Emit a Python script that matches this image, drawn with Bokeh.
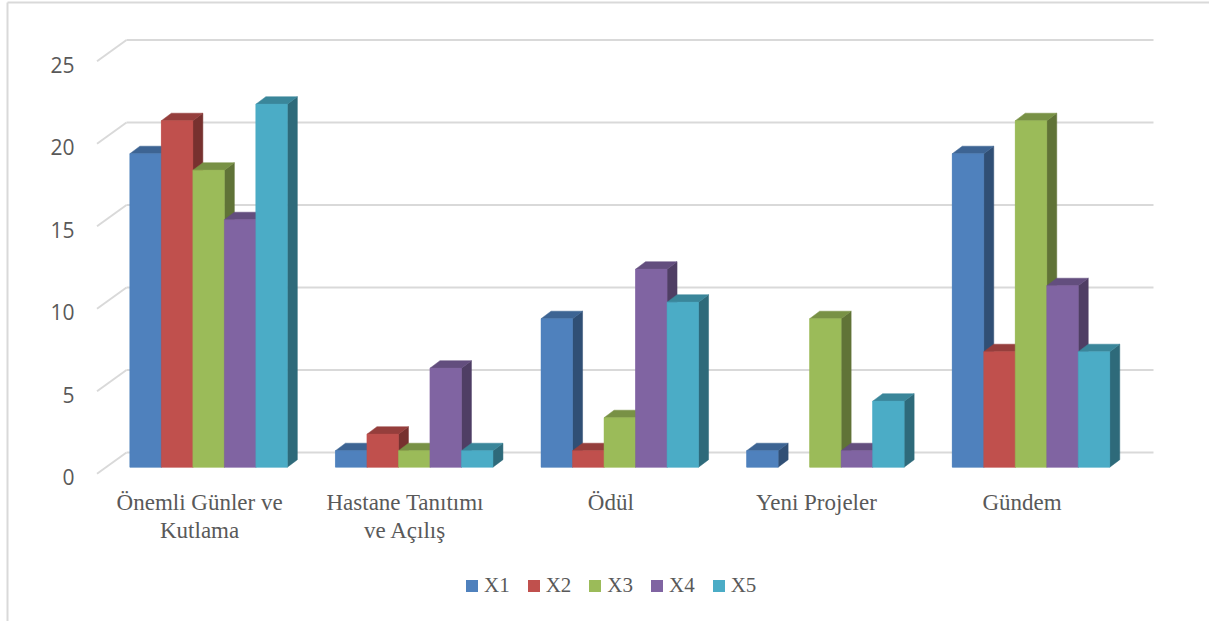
from bokeh.plotting import figure
from bokeh.models import Legend, LegendItem, Range1d, ColumnDataSource
from bokeh.core.properties import value
from bokeh.embed import file_html
from bokeh.resources import INLINE

categories = ["Önemli Günler ve\nKutlama", "Hastane Tanıtımı\nve Açılış", "Ödül", "Yeni Projeler", "Gündem"]
series = ["X1", "X2", "X3", "X4", "X5"]
x1 = [19, 1, 9, 1, 19]
x2 = [21, 2, 1, 0, 7]
x3 = [18, 1, 3, 9, 21]
x4 = [15, 6, 12, 1, 11]
x5 = [22, 1, 10, 4, 7]
values = [x1, x2, x3, x4, x5]
y_ticks = [0, 5, 10, 15, 20, 25]
colors = ["#4F81BD", "#C0504D", "#9BBB59", "#8064A2", "#4BACC6"]

W, H = 1209, 621
# pixel geometry -> data-unit helpers
PX_PER_CAT = 205.6
CAT0_PX = 208.1
ZERO_PY = 466.7
PX_PER_UNIT = 16.5


def xu(px):
    return (px - CAT0_PX) / PX_PER_CAT


def yu(py):
    return (ZERO_PY - py) / PX_PER_UNIT


def shade(hexc, f):
    r, g, b = int(hexc[1:3], 16), int(hexc[3:5], 16), int(hexc[5:7], 16)
    return "#%02x%02x%02x" % (int(r * f), int(g * f), int(b * f))


p = figure(width=W, height=H, output_backend="svg", toolbar_location=None,
           x_range=Range1d(xu(0), xu(W)), y_range=Range1d(yu(H), yu(0)),
           x_axis_location=None, y_axis_location=None, min_border=0,
           background_fill_color="white", border_fill_color="white")
p.outline_line_color = None
p.xgrid.visible = False
p.ygrid.visible = False

# chart border (left and top)
p.line([xu(7), xu(7)], [yu(2), yu(H + 5)], line_color="#D9D9D9", line_width=2)
p.line([xu(7), xu(W + 5)], [yu(2), yu(2)], line_color="#D9D9D9", line_width=2)

# gridlines on back wall + side wall diagonals
front_off = -6.5 / PX_PER_UNIT
back_off = 14.7 / PX_PER_UNIT
xf, xb, xr = xu(96.5), xu(126), xu(1153)
gx, gy = [], []
dxs, dys = [], []
for v in y_ticks:
    gx.append([xb, xr]); gy.append([v + back_off, v + back_off])
    dxs.append([xf, xb]); dys.append([v + front_off, v + back_off])
p.multi_line(gx, gy, line_color="#D9D9D9", line_width=2)
p.multi_line(dxs, dys, line_color="#D9D9D9", line_width=2)

# tick labels
p.text(x=[xu(74)] * len(y_ticks), y=[v + front_off - 0.2 for v in y_ticks],
       text=[str(v) for v in y_ticks], text_align="right", text_baseline="middle",
       text_font=value("Open Sans"), text_font_size="21px", text_color="#595959")

bw = 31.5 / PX_PER_CAT
ddx = 10 / PX_PER_CAT
ddy = 7.5 / PX_PER_UNIT

# per-series front faces (also used for the legend); 3D faces drawn over them
legend_renderers = []
for j in range(len(series)):
    src = ColumnDataSource(dict(
        left=[i - 2.5 * bw + j * bw for i in range(len(categories))],
        right=[i - 1.5 * bw + j * bw for i in range(len(categories))],
        top=list(values[j]), bottom=[0] * len(categories)))
    r = p.quad(left="left", right="right", top="top", bottom="bottom", source=src,
               fill_color=colors[j], line_color=None)
    legend_renderers.append(r)

# 3D bars, painted left to right
for i in range(len(categories)):
    for j in range(len(series)):
        v = values[j][i]
        if v <= 0:
            continue
        x0 = i - 2.5 * bw + j * bw
        x1_ = x0 + bw
        c = colors[j]
        p.patch([x1_, x1_, x1_ + ddx, x1_ + ddx], [0, v, v + ddy, ddy],
                fill_color=shade(c, 0.62), line_color=shade(c, 0.62), line_width=0.5)
        p.patch([x0, x1_, x1_ + ddx, x0 + ddx], [v, v, v + ddy, v + ddy],
                fill_color=shade(c, 0.78), line_color=shade(c, 0.78), line_width=0.5)
        p.quad(left=[x0], right=[x1_], bottom=[0], top=[v],
               fill_color=c, line_color=c, line_width=0.5)

# category labels
p.text(x=[i - 9 / PX_PER_CAT for i in range(len(categories))],
       y=[yu(489)] * len(categories), text=categories,
       text_align="center", text_baseline="top", text_line_height=1.15,
       text_font=value("Liberation Serif"), text_font_size="23px", text_color="#595959")

legend = Legend(items=[LegendItem(label=s, renderers=[r]) for s, r in zip(series, legend_renderers)],
                orientation="horizontal", location=(464, 23), glyph_width=15, glyph_height=15,
                label_standoff=5, spacing=16, padding=0, margin=0,
                border_line_color=None, background_fill_alpha=0,
                label_text_font="Liberation Serif", label_text_font_size="21px",
                label_text_color="#595959")
p.add_layout(legend)

open("out.html", "w").write(file_html(p, INLINE))
